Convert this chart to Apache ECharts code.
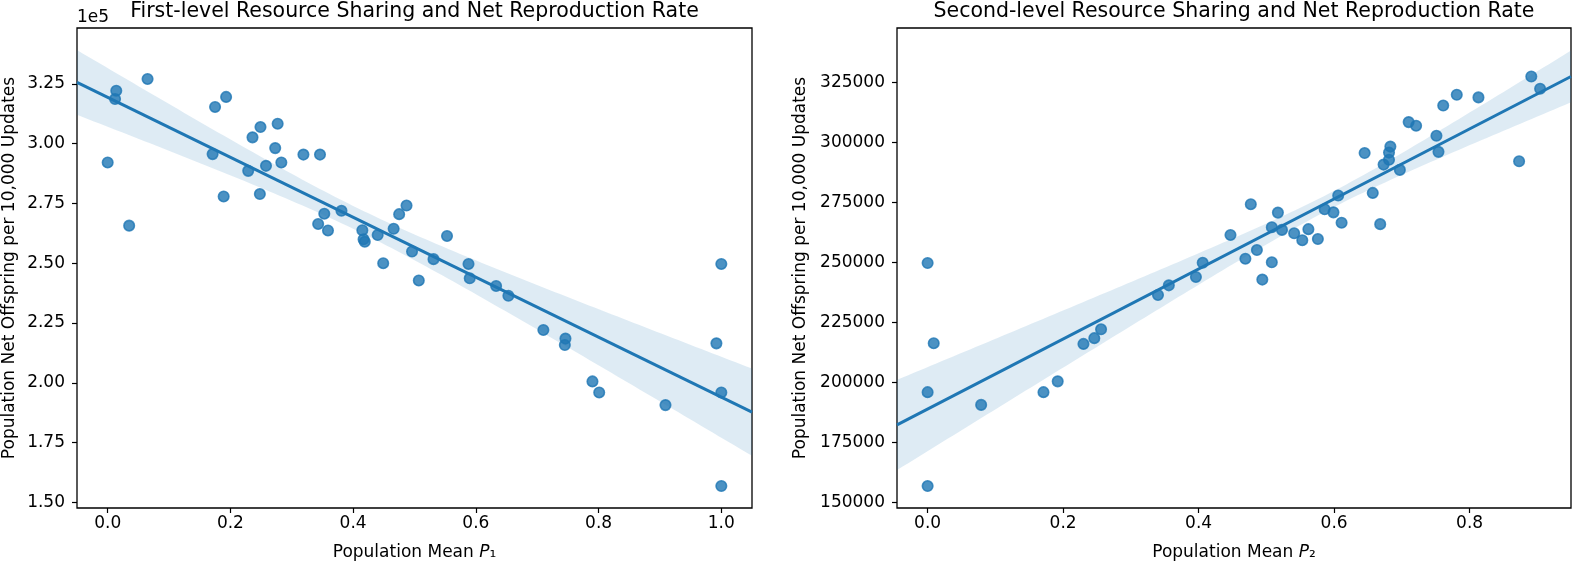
<!DOCTYPE html>
<html>
<head>
<meta charset="utf-8">
<script src="https://cdn.jsdelivr.net/npm/echarts@6/dist/echarts.min.js"></script>
<style>
html,body{margin:0;padding:0;background:#fff;}
#chart{width:1575px;height:563px;}
</style>
</head>
<body>
<div id="chart"></div>
<script>
// ---- Data ----
const P1 = [0.000, 0.012, 0.014, 0.035, 0.065, 0.171, 0.175, 0.189, 0.193, 0.229, 0.236, 0.248, 0.249, 0.258, 0.273, 0.277, 0.283, 0.319, 0.343, 0.346, 0.353, 0.359, 0.381, 0.415, 0.417, 0.419, 0.440, 0.449, 0.466, 0.475, 0.487, 0.496, 0.507, 0.531, 0.553, 0.588, 0.590, 0.633, 0.653, 0.710, 0.746, 0.745, 0.790, 0.801, 0.909, 0.992, 1.000, 1.000, 1.000];
const NET1 = [292100, 318600, 322100, 265700, 327000, 295600, 315300, 277900, 319500, 288600, 302600, 278900, 306900, 290700, 298100, 308300, 292100, 295400, 266400, 295400, 270700, 263700, 271900, 263800, 260000, 259000, 261800, 250000, 264400, 270500, 274100, 254900, 242800, 251700, 261400, 249700, 243700, 240500, 236400, 222100, 218500, 215800, 200600, 196000, 190700, 216500, 196000, 156900, 249700];

const P2 = [0.000, 0.009, 0.000, 0.000, 0.079, 0.171, 0.192, 0.230, 0.246, 0.256, 0.340, 0.356, 0.396, 0.406, 0.447, 0.469, 0.477, 0.486, 0.494, 0.508, 0.508, 0.517, 0.523, 0.541, 0.553, 0.562, 0.576, 0.586, 0.599, 0.611, 0.606, 0.645, 0.657, 0.668, 0.673, 0.681, 0.681, 0.683, 0.697, 0.710, 0.721, 0.751, 0.754, 0.761, 0.781, 0.813, 0.873, 0.891, 0.904];
const NET2 = [249800, 216400, 196000, 156900, 190700, 196000, 200500, 216100, 218500, 222200, 236500, 240500, 244000, 249900, 261500, 251600, 274300, 255200, 242900, 250100, 264700, 270800, 263600, 262200, 259300, 263900, 259800, 272200, 270900, 266600, 277900, 295600, 279000, 266000, 290800, 292800, 295800, 298300, 288600, 308500, 307000, 302800, 296100, 315400, 319900, 318800, 292200, 327500, 322400];

const X_TICKS_1 = [0, 0.2, 0.4, 0.6, 0.8, 1.0];
const X_TICKS_2 = [0, 0.2, 0.4, 0.6, 0.8];
const Y_TICKS = [150000, 175000, 200000, 225000, 250000, 275000, 300000, 325000];

const TITLE_1 = 'First-level Resource Sharing and Net Reproduction Rate';
const TITLE_2 = 'Second-level Resource Sharing and Net Reproduction Rate';
const Y_NAME = 'Population Net Offspring per 10,000 Updates';

// axis extents (matplotlib autoscale)
const X1_RANGE = [-0.05, 1.05];
const X2_RANGE = [-0.0452, 0.9496];
const Y1_RANGE = [147700, 348300];
const Y2_RANGE = [147750, 347700];

// ---- OLS fit with robust 95% CI ----
function fit(xs, ys, lo, hi, steps) {
  const n = xs.length;
  let xb = 0, yb = 0;
  for (let i = 0; i < n; i++) { xb += xs[i]; yb += ys[i]; }
  xb /= n; yb /= n;
  let sxx = 0, sxy = 0;
  for (let i = 0; i < n; i++) { sxx += (xs[i] - xb) ** 2; sxy += (xs[i] - xb) * (ys[i] - yb); }
  const b = sxy / sxx, a = yb - b * xb;
  const e2 = xs.map((x, i) => (ys[i] - a - b * x) ** 2);
  const band = [];
  for (let k = 0; k <= steps; k++) {
    const x0 = lo + (hi - lo) * k / steps;
    let v = 0;
    for (let i = 0; i < n; i++) {
      const w = 1 / n + (x0 - xb) * (xs[i] - xb) / sxx;
      v += w * w * e2[i];
    }
    const se = Math.sqrt(v * n / (n - 2));
    const yh = a + b * x0;
    band.push([x0, yh - 1.96 * se, yh + 1.96 * se]);
  }
  return { line: [[lo, a + b * lo], [hi, a + b * hi]], band };
}

const FONT = 'DejaVu Sans';
const C = '#1f77b4';
const fit1 = fit(P1, NET1, X1_RANGE[0], X1_RANGE[1], 120);
const fit2 = fit(P2, NET2, X2_RANGE[0], X2_RANGE[1], 120);

function bandSeries(f, idx) {
  return {
    type: 'custom', xAxisIndex: idx, yAxisIndex: idx, clip: true, z: 2, silent: true,
    data: [[f.band[0][0], f.band[0][1]]],
    renderItem: function (params, api) {
      const pts = [];
      f.band.forEach(p => pts.push(api.coord([p[0], p[2]])));
      for (let k = f.band.length - 1; k >= 0; k--) pts.push(api.coord([f.band[k][0], f.band[k][1]]));
      return { type: 'polygon', shape: { points: pts }, style: { fill: 'rgba(31,119,180,0.15)', stroke: null } };
    }
  };
}

function scatterSeries(xs, ys, idx) {
  return {
    type: 'scatter', xAxisIndex: idx, yAxisIndex: idx, z: 1,
    data: xs.map((x, i) => [x, ys[i]]),
    symbolSize: 10.5,
    itemStyle: { color: 'rgba(31,119,180,0.8)', borderColor: 'rgba(31,119,180,0.8)', borderWidth: 1.6, opacity: 1 },
    emphasis: { disabled: true }
  };
}

function lineSeries(f, idx) {
  return {
    type: 'line', xAxisIndex: idx, yAxisIndex: idx, z: 3,
    data: f.line, showSymbol: false, symbol: 'none',
    lineStyle: { color: C, width: 3 }
  };
}

function xAxis(idx, range, ticks, sub) {
  return {
    type: 'value', gridIndex: idx, min: range[0], max: range[1],
    axisLine: { show: false, onZero: false },
    splitLine: { show: false },
    axisTick: { show: true, length: 5, customValues: ticks, lineStyle: { color: '#000', width: 1.2 } },
    axisLabel: { customValues: ticks, margin: 7, color: '#000', fontSize: 17, fontFamily: FONT,
      formatter: v => v.toFixed(1) },
    name: '{n|Population Mean }{i|P}{n|' + sub + '}',
    nameLocation: 'middle', nameGap: 36,
    nameTextStyle: {
      rich: {
        n: { fontSize: 17, fontFamily: FONT, color: '#000' },
        i: { fontSize: 17, fontFamily: FONT, color: '#000', fontStyle: 'italic' }
      }
    }
  };
}

function yAxis(idx, range, fmt, gap) {
  return {
    type: 'value', gridIndex: idx, min: range[0], max: range[1],
    axisLine: { show: false, onZero: false },
    splitLine: { show: false },
    axisTick: { show: true, length: 5, customValues: Y_TICKS, lineStyle: { color: '#000', width: 1.2 } },
    axisLabel: { customValues: Y_TICKS, margin: 12, color: '#000', fontSize: 17, fontFamily: FONT, formatter: fmt },
    name: Y_NAME, nameLocation: 'middle', nameGap: gap,
    nameTextStyle: { fontSize: 17, fontFamily: FONT, color: '#000' }
  };
}

const chart = echarts.init(document.getElementById('chart'), null, { renderer: 'canvas' });
chart.setOption({
  backgroundColor: '#fff',
  animation: false,
  grid: [
    { left: 77, top: 28, width: 675, height: 480, outerBoundsMode: 'none', containLabel: false, show: true, borderColor: '#000', borderWidth: 1.3, backgroundColor: 'transparent' },
    { left: 897, top: 28, width: 674, height: 480, outerBoundsMode: 'none', containLabel: false, show: true, borderColor: '#000', borderWidth: 1.3, backgroundColor: 'transparent' }
  ],
  xAxis: [xAxis(0, X1_RANGE, X_TICKS_1, '₁'), xAxis(1, X2_RANGE, X_TICKS_2, '₂')],
  yAxis: [
    yAxis(0, Y1_RANGE, v => (v / 1e5).toFixed(2), 59),
    yAxis(1, Y2_RANGE, v => String(Math.round(v)), 88)
  ],
  graphic: [
    { type: 'text', x: 414.5, y: 12, style: { text: TITLE_1, fontSize: 20.5, fontFamily: FONT, fill: '#000', align: 'center', verticalAlign: 'middle' } },
    { type: 'text', x: 1234, y: 12, style: { text: TITLE_2, fontSize: 20.5, fontFamily: FONT, fill: '#000', align: 'center', verticalAlign: 'middle' } },
    { type: 'text', x: 77, y: 18, style: { text: '1e5', fontSize: 17, fontFamily: FONT, fill: '#000', align: 'left', verticalAlign: 'middle' } }
  ],
  series: [
    scatterSeries(P1, NET1, 0), bandSeries(fit1, 0), lineSeries(fit1, 0),
    scatterSeries(P2, NET2, 1), bandSeries(fit2, 1), lineSeries(fit2, 1)
  ]
});
</script>
</body>
</html>
